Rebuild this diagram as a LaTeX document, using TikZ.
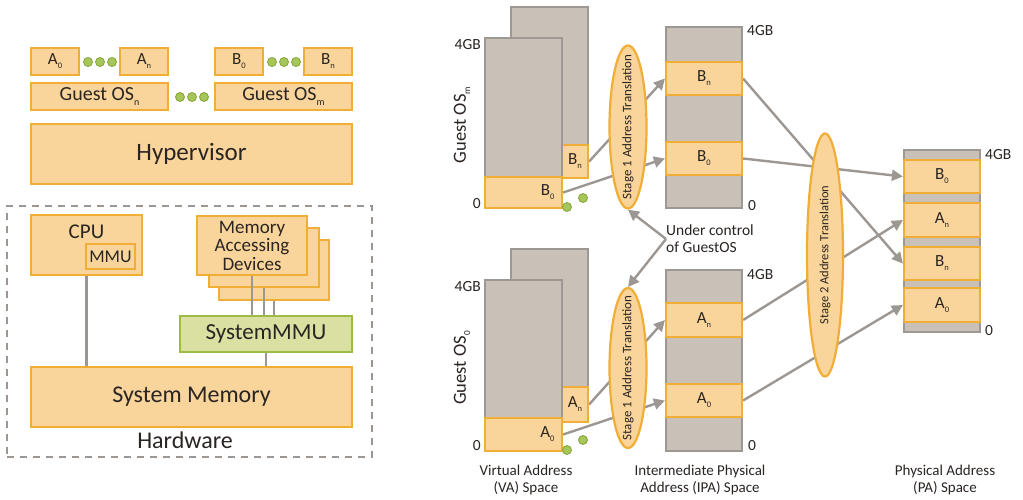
\documentclass[tikz,border=0pt]{standalone}
\usepackage{fontspec}
\setmainfont{Carlito}
\usepackage{graphicx}
\usetikzlibrary{shapes.geometric,arrows.meta}
\definecolor{orfill}{HTML}{F9D49B}
\definecolor{ordark}{HTML}{F0AE36}
\definecolor{grfill}{HTML}{C9C0B8}
\definecolor{grdark}{HTML}{9E9894}
\definecolor{gnfill}{HTML}{A6C55A}
\definecolor{gndark}{HTML}{86A637}
\definecolor{smfill}{HTML}{D9E0A2}
\definecolor{smdark}{HTML}{9EBB45}
\definecolor{lngray}{HTML}{9C9792}
\definecolor{txt}{HTML}{2A2522}
\newcommand\sbs[1]{\raisebox{-0.5ex}{\scalebox{0.5}{#1}}}
\newcommand\fs[1]{\fontsize{#1}{#1}\selectfont}
\pgfdeclarelayer{back}
\pgfdeclarelayer{bg}
\pgfsetlayers{back,bg,main}
\begin{document}
\begin{tikzpicture}[x=1pt,y=-1pt,
  every node/.style={text=txt, inner sep=0pt},
  obox/.style={draw=ordark, fill=orfill, line width=2.2pt},
  gbox/.style={draw=grdark, fill=grfill, line width=2.2pt},
  ell/.style={ellipse, draw=ordark, fill=orfill, line width=2.2pt},
  gdot/.style={circle, draw=gndark, fill=gnfill, line width=0.8pt, minimum size=9pt},
  conn/.style={draw=lngray, line width=2.4pt},
  arr/.style={conn, -{Triangle[length=11pt,width=11pt]}},
  sz/.style 2 args={minimum width=#1pt, minimum height=#2pt},
  small/.style={font=\fs{17}},
  tick/.style={font=\fs{15.5}},
  caption/.style={font=\fontsize{15}{17}\selectfont, align=center},
]
\begin{pgfonlayer}{back}
\fill[white] (0,0) rectangle (1023,499);
\end{pgfonlayer}
\useasboundingbox (0,0) rectangle (1023,499);

% ---------------- left: software stack ----------------
\node[obox, sz={48}{27}, small] (a0) at (55,61.5) {A\sbs{0}};
\node[gdot] (da1) at (88,62) {};
\node[gdot] (da2) at (100,62) {};
\node[gdot] (da3) at (112,62) {};
\node[obox, sz={48}{27}, small] (an) at (144,61.5) {A\sbs{n}};
\node[obox, sz={48}{27}, small] (b0) at (239,61.5) {B\sbs{0}};
\node[gdot] (db1) at (272,62) {};
\node[gdot] (db2) at (284,62) {};
\node[gdot] (db3) at (296,62) {};
\node[obox, sz={48}{27}, small] (bn) at (328,61.5) {B\sbs{n}};
\node[obox, sz={137}{27}, font=\fs{20}] (gosn) at (99.5,96.5) {Guest OS\sbs{n}};
\node[gdot] (dg1) at (180,97) {};
\node[gdot] (dg2) at (192,97) {};
\node[gdot] (dg3) at (204,97) {};
\node[obox, sz={137}{27}, font=\fs{20}] (gosm) at (283.5,96.5) {Guest OS\sbs{m}};
\node[obox, sz={321}{60}, font=\fs{25}] (hyp) at (191.5,154) {Hypervisor};

% ---------------- left: hardware ----------------
\node[draw=lngray, dash pattern=on 7pt off 6pt, line width=2.4pt, sz={365}{251}] (hw) at (189.5,331.5) {};
\node[font=\fs{24}] (hwl) at (185,440) {Hardware};
\node[obox, sz={111}{60}] (cpu) at (86.5,245) {};
\node[font=\fs{21}] (cpul) at (86.5,232) {CPU};
\node[obox, sz={49}{25}, font=\fs{18}] (mmu) at (110.5,256.5) {MMU};
\node[obox, sz={110}{60}] (dev3) at (274,270) {};
\node[obox, sz={110}{59}] (dev2) at (264,257.5) {};
\node[obox, sz={110}{59}, font=\fontsize{19}{18.5}\selectfont, align=center] (dev1) at (252,245.5) {Memory\\Accessing\\Devices};
\node[draw=smdark, fill=smfill, line width=2.2pt, sz={172}{36}, font=\fs{23}] (smmu) at (266,334) {SystemMMU};
\node[obox, sz={321}{60}, font=\fs{24}] (sysmem) at (191.5,397) {System Memory};
\draw[conn] (cpu.south) -- (cpu.south |- sysmem.north);
\draw[conn] (dev1.south) -- (dev1.south |- smmu.north);
\draw[conn] (dev2.south) -- (dev2.south |- smmu.north);
\draw[conn] (dev3.south) -- (dev3.south |- smmu.north);
\draw[conn] (smmu.south) -- (smmu.south |- sysmem.north);

% ---------------- right: VA upper (Guest OS m) ----------------
\node[gbox, sz={77}{171}] (vbk) at (549.5,92.5) {};
\node[obox, sz={26}{33}, small] (vbn) at (575,161.5) {B\sbs{n}};
\node[gbox, sz={77}{170}] (vfr) at (523.5,123) {};
\node[obox, sz={77}{31}, small, text width=62pt, align=right] (vb0) at (523.5,192.5) {B\sbs{0}};
\node[tick, anchor=east] (vt4) at (481,45) {4GB};
\node[tick, anchor=east] (vt0) at (481,204) {0};
\node[font=\fs{18.5}, rotate=90] (gosml) at (462,125) {Guest OS\sbs{m}};
\node[ell, sz={37}{163}, label={[rotate=90,font=\fs{13}]center:Stage 1 Address Translation}] (s1u) at (628,127) {};
\node[gdot] (du1) at (567,207) {};
\node[gdot] (du2) at (583,198) {};

% IPA upper
\node[gbox, sz={76}{181}] (iu) at (704,117.5) {};
\node[obox, sz={76}{33}, small] (ibn) at (704,78.5) {B\sbs{n}};
\node[obox, sz={76}{33}, small] (ib0) at (704,158.5) {B\sbs{0}};
\node[tick, anchor=west] (it4) at (747,31) {4GB};
\node[tick, anchor=west] (it0) at (748,206) {0};

% ---------------- right: VA lower (Guest OS 0) ----------------
\node[gbox, sz={77}{173}] (vbk2) at (549.5,335.5) {};
\node[obox, sz={26}{35}, small] (van) at (575,404.5) {A\sbs{n}};
\node[gbox, sz={77}{171}] (vfr2) at (523.5,365.5) {};
\node[obox, sz={77}{33}, small, text width=62pt, align=right] (va0) at (523.5,434.5) {A\sbs{0}};
\node[tick, anchor=east] (vt4b) at (481,287) {4GB};
\node[tick, anchor=east] (vt0b) at (481,446) {0};
\node[font=\fs{18.5}, rotate=90] (gos0l) at (462,368) {Guest OS\sbs{0}};
\node[ell, sz={37}{160}, label={[rotate=90,font=\fs{13}]center:Stage 1 Address Translation}] (s1l) at (628,368) {};
\node[gdot] (dl1) at (567,450) {};
\node[gdot] (dl2) at (583,440) {};

% IPA lower
\node[gbox, sz={76}{181}] (il) at (704,360.5) {};
\node[obox, sz={76}{34}, small] (ian) at (704,320) {A\sbs{n}};
\node[obox, sz={76}{33}, small] (ia0) at (704,400.5) {A\sbs{0}};
\node[tick, anchor=west] (it4b) at (747,275) {4GB};
\node[tick, anchor=west] (it0b) at (748,446) {0};

% under control
\node[font=\fontsize{15.5}{17}\selectfont, align=left, anchor=west] (uc) at (666,239) {Under control\\of GuestOS};
\draw[arr] (uc.west) -- (s1u.south);
\draw[arr] (uc.west) -- (s1l.north);

% ---------------- stage 2 and PA ----------------
\node[ell, sz={36}{243}, label={[rotate=90,font=\fs{12.5}]center:Stage 2 Address Translation}] (s2) at (825,255) {};
\node[gbox, sz={76}{182}] (pa) at (942,241) {};
\node[obox, sz={76}{33}, small] (pb0) at (942,176.5) {B\sbs{0}};
\node[obox, sz={76}{34}, small] (pan) at (942,220) {A\sbs{n}};
\node[obox, sz={76}{33}, small] (pbn) at (942,263.5) {B\sbs{n}};
\node[obox, sz={76}{34}, small] (pa0) at (942,305) {A\sbs{0}};
\node[tick, anchor=west] (pt4) at (985,155) {4GB};
\node[tick, anchor=west] (pt0) at (985,331) {0};

% captions
\node[caption] (val) at (526,479.5) {Virtual Address\\(VA) Space};
\node[caption] (ipal) at (700,479.5) {Intermediate Physical\\Address (IPA) Space};
\node[caption] (pal) at (945,479.5) {Physical Address\\(PA) Space};

% translation arrows (behind the ellipses)
\begin{pgfonlayer}{bg}
\draw[arr] (vbn.east) -- (ibn.west);
\draw[arr] (vb0.east) -- (ib0.west);
\draw[arr] (van.east) -- (ian.west);
\draw[arr] (va0.east) -- (ia0.west);
\draw[arr] (ibn.east) -- (pbn.west);
\draw[arr] (ib0.east) -- (pb0.west);
\draw[arr] (ian.east) -- (pan.west);
\draw[arr] (ia0.east) -- (pa0.west);
\end{pgfonlayer}
\end{tikzpicture}
\end{document}
